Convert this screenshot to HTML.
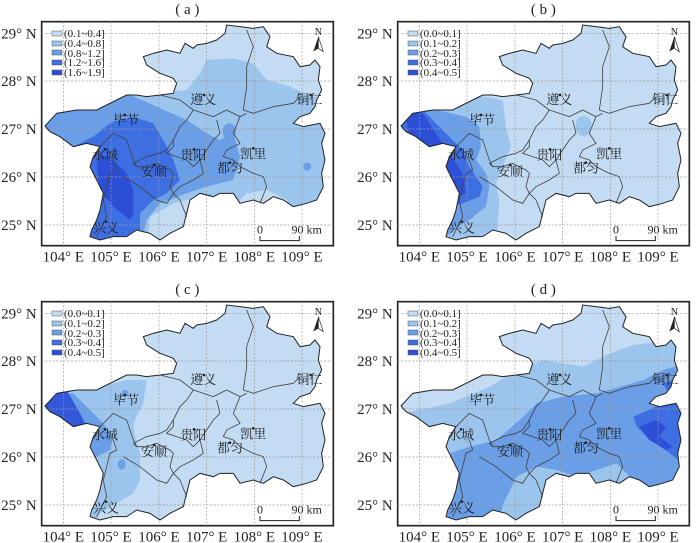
<!DOCTYPE html>
<html><head><meta charset="utf-8">
<style>
html,body{margin:0;padding:0;background:#fff;width:700px;height:543px;overflow:hidden}
svg{display:block}
text{font-family:"Liberation Serif","Noto Serif CJK SC",serif;fill:#222}
</style></head><body>
<svg width="700" height="543" viewBox="0 0 700 543" xmlns="http://www.w3.org/2000/svg">
<defs>
<clipPath id="gz"><path id="outline" d="M135,378 L170,340 L230,330 L290,330 L350,300 L380,285 L410,285 L440,290 L480,285 L520,280 L530,250 L520,235 L480,220 L440,195 L430,170 L460,160 L500,150 L540,160 L555,130 L580,145 L590,135 L620,130 L650,120 L675,100 L680,75 L720,80 L760,85 L790,80 L810,110 L800,140 L830,160 L880,170 L900,200 L930,195 L945,180 L960,200 L955,240 L965,270 L950,300 L945,320 L930,340 L900,350 L880,370 L910,380 L960,370 L975,400 L965,430 L975,480 L965,520 L970,560 L950,600 L920,610 L880,620 L850,600 L820,590 L790,610 L760,600 L720,610 L700,580 L660,580 L640,590 L600,580 L570,600 L560,640 L550,680 L510,700 L480,720 L450,700 L410,690 L380,710 L340,710 L300,720 L270,710 L275,690 L290,660 L300,630 L310,580 L290,540 L270,500 L280,470 L300,440 L260,430 L220,440 L180,410 L150,395 Z"/></clipPath>
<g id="frame">
<rect x="125" y="65" width="875" height="672" fill="none" stroke="#222" stroke-width="5"/>
<g stroke="#999" stroke-width="2" stroke-dasharray="6,5">
<line x1="190" y1="65" x2="190" y2="737"/><line x1="333" y1="65" x2="333" y2="737"/><line x1="477" y1="65" x2="477" y2="737"/><line x1="620" y1="65" x2="620" y2="737"/><line x1="763" y1="65" x2="763" y2="737"/><line x1="906" y1="65" x2="906" y2="737"/>
<line x1="125" y1="100" x2="1000" y2="100"/><line x1="125" y1="243" x2="1000" y2="243"/><line x1="125" y1="387" x2="1000" y2="387"/><line x1="125" y1="531" x2="1000" y2="531"/><line x1="125" y1="675" x2="1000" y2="675"/>
</g>
<g font-size="45" text-anchor="end">
<text x="110" y="115">29° N</text><text x="110" y="258">28° N</text><text x="110" y="402">27° N</text><text x="110" y="546">26° N</text><text x="110" y="690">25° N</text>
</g>
<g font-size="45" text-anchor="middle">
<text x="190" y="785">104° E</text><text x="333" y="785">105° E</text><text x="477" y="785">106° E</text><text x="620" y="785">107° E</text><text x="763" y="785">108° E</text><text x="906" y="785">109° E</text>
</g>
<g fill="none" stroke="#444" stroke-width="2.5">
<polyline points="480,285 540,300 580,330 560,360 540,380 520,420 500,450"/>
<polyline points="740,90 760,140 740,200 740,260 730,330 760,340 820,320 880,310 900,290"/>
<polyline points="580,330 640,350 680,330 720,350 740,340"/>
<polyline points="520,420 520,440 500,460 530,470 560,480 580,500 600,480 620,450 640,420 660,400 650,360"/>
<polyline points="720,350 700,400 720,430 680,450 670,470 700,480 720,500 760,520 790,530 800,560 780,610"/>
<polyline points="400,490 440,470 480,460 500,450"/>
<polyline points="400,490 410,500 440,500 470,490 510,510 520,520 510,560 520,580"/>
<polyline points="370,530 420,560 470,600 500,610 520,580 540,600 560,650"/>
<polyline points="300,440 340,400 380,420 400,480 410,500"/>
<polyline points="340,480 350,510 330,520 320,560 310,600 320,650 290,710"/>
<polyline points="600,480 610,520 580,540 540,560 520,580"/>
</g>
<use href="#outline" fill="none" stroke="#222" stroke-width="3"/>
<g font-size="39" text-anchor="middle">
<text x="610" y="312">遵义</text><text x="378" y="373">毕节</text><text x="315" y="478">水城</text><text x="580" y="478">贵阳</text><text x="462" y="528">安顺</text><text x="760" y="475">凯里</text><text x="690" y="518">都匀</text><text x="928" y="312">铜仁</text><text x="318" y="698">兴义</text>
</g>
<g fill="#222"><circle cx="612" cy="285" r="4"/><circle cx="375" cy="345" r="4"/><circle cx="315" cy="448" r="4"/><circle cx="582" cy="448" r="4"/><circle cx="462" cy="495" r="4"/><circle cx="760" cy="445" r="4"/><circle cx="690" cy="488" r="4"/><circle cx="932" cy="285" r="4"/><circle cx="318" cy="665" r="4"/></g>
<text x="955" y="105" font-size="30" text-anchor="middle">N</text>
<path d="M955,110 L940,155 L955,145 Z" fill="#222"/><path d="M955,110 L970,155 L955,145 Z" fill="none" stroke="#222" stroke-width="2"/>
<text x="780" y="700" font-size="36" text-anchor="middle">0</text>
<text x="920" y="700" font-size="36" text-anchor="middle">90 km</text>
<polyline points="780,708 780,722 898,722 898,708" fill="none" stroke="#222" stroke-width="3"/>
</g>
</defs>

<!-- Panel a -->
<g transform="translate(0,0) scale(0.33333)">
<text x="562" y="42" font-size="45" text-anchor="middle">( a )</text>
<g clip-path="url(#gz)">
<rect x="100" y="50" width="920" height="720" fill="#9cc5ee"/>
<path d="M400,60 L1000,60 L1000,290 L930,290 L870,260 L800,240 L760,190 L700,175 L620,180 L600,220 L560,270 L480,280 L400,280 Z" fill="#c4dcf3"/>
<path d="M700,620 L740,580 L800,570 L860,600 L880,650 L700,650 Z" fill="#c4dcf3"/>
<path d="M440,740 L450,650 L520,610 L600,590 L560,700 L520,740 Z" fill="#c4dcf3"/>
<path d="M130,300 L380,280 L470,320 L560,360 L620,400 L660,420 L700,400 L720,470 L700,540 L620,560 L560,580 L480,610 L440,660 L420,740 L260,740 L130,420 Z" fill="#6a9ee6"/>
<ellipse cx="688" cy="395" rx="20" ry="25" fill="#6a9ee6"/><circle cx="922" cy="500" r="12" fill="#6a9ee6"/>
<path d="M220,440 L280,410 L330,370 L400,350 L460,370 L490,420 L520,480 L540,540 L500,580 L460,600 L420,640 L420,700 L380,710 L300,720 L260,720 L260,540 L240,470 Z" fill="#3e6fe2"/>
<path d="M300,460 L340,480 L380,520 L400,570 L400,640 L390,660 L340,620 L300,570 L290,500 Z" fill="#2c4fd6"/>
</g>
<use href="#frame"/>
</g>

<!-- Panel b -->
<g transform="translate(356,0) scale(0.33333)">
<text x="562" y="42" font-size="45" text-anchor="middle">( b )</text>
<g clip-path="url(#gz)">
<rect x="100" y="50" width="920" height="720" fill="#c4dcf3"/>
<path d="M130,330 L380,290 L440,300 L450,380 L465,440 L440,500 L420,550 L430,600 L420,740 L270,740 L130,420 Z" fill="#9cc5ee"/>
<ellipse cx="683" cy="378" rx="24" ry="30" fill="#9cc5ee"/>
<path d="M130,330 L240,330 L330,350 L370,380 L375,440 L360,480 L390,520 L400,560 L390,620 L340,660 L290,690 L270,710 L260,560 L130,420 Z" fill="#6a9ee6"/>
<path d="M130,330 L200,330 L270,400 L320,450 L340,500 L380,560 L370,590 L320,610 L280,620 L250,600 L130,420 Z" fill="#3e6fe2"/>
<path d="M150,340 L200,340 L240,400 L280,460 L320,520 L330,580 L290,600 L250,590 L250,470 L160,430 Z" fill="#2c4fd6"/>
</g>
<use href="#frame"/>
</g>

<!-- Panel c -->
<g transform="translate(0,280) scale(0.33333)">
<text x="562" y="42" font-size="45" text-anchor="middle">( c )</text>
<g clip-path="url(#gz)">
<rect x="100" y="50" width="920" height="720" fill="#c4dcf3"/>
<path d="M130,340 L260,330 L380,300 L440,300 L430,370 L400,430 L405,470 L420,520 L420,600 L400,640 L300,700 L270,740 L250,500 L130,420 Z" fill="#9cc5ee"/>
<path d="M130,340 L220,340 L260,380 L300,420 L340,470 L330,510 L290,530 L260,560 L240,480 L130,420 Z" fill="#6a9ee6"/>
<ellipse cx="365" cy="553" rx="12" ry="15" fill="#6a9ee6"/><circle cx="375" cy="340" r="10" fill="#6a9ee6"/>
<path d="M130,320 L200,330 L240,400 L260,440 L260,470 L230,470 L130,420 Z" fill="#3358da"/>
</g>
<use href="#frame"/>
</g>

<!-- Panel d -->
<g transform="translate(356,280) scale(0.33333)">
<text x="562" y="42" font-size="45" text-anchor="middle">( d )</text>
<g clip-path="url(#gz)">
<rect x="100" y="50" width="920" height="720" fill="#c4dcf3"/>
<path d="M100,400 L142,400 L282,370 L402,320 L482,270 L562,240 L682,260 L762,220 L832,195 L962,180 L1010,170 L1010,760 L100,760 Z" fill="#9cc5ee"/>
<path d="M252,530 L342,500 L422,480 L502,410 L542,370 L622,350 L722,340 L862,300 L922,270 L990,250 L990,760 L822,590 L782,550 L662,590 L602,570 L542,560 L482,590 L442,670 L422,760 L252,760 Z" fill="#6a9ee6"/>
<path d="M832,410 L922,370 L990,360 L990,560 L942,520 L872,470 L842,440 Z" fill="#3e6fe2"/>
<path d="M922,310 L972,290 L972,320 L932,330 Z" fill="#3e6fe2"/>
<path d="M850,440 L900,420 L930,440 L910,470 L950,500 L930,510 L880,480 Z" fill="#2c4fd6"/>
</g>
<use href="#frame"/>
</g>

<!-- Legends -->
<g id="lg" transform="scale(0.33333)">
</g>
<g font-size="12" font-family="Liberation Serif">
<g transform="translate(0,0)">
<rect x="52" y="31" width="10" height="5" fill="#c4dcf3" stroke="#555" stroke-width="0.5"/><text x="64" y="37" font-size="11">(0.1~0.4]</text>
<rect x="52" y="41" width="10" height="5" fill="#9cc5ee" stroke="#555" stroke-width="0.5"/><text x="64" y="47" font-size="11">(0.4~0.8]</text>
<rect x="52" y="50" width="10" height="5" fill="#6a9ee6" stroke="#555" stroke-width="0.5"/><text x="64" y="57" font-size="11">(0.8~1.2]</text>
<rect x="52" y="60" width="10" height="5" fill="#3e6fe2" stroke="#555" stroke-width="0.5"/><text x="64" y="66" font-size="11">(1.2~1.6]</text>
<rect x="52" y="70" width="10" height="5" fill="#2c4fd6" stroke="#555" stroke-width="0.5"/><text x="64" y="76" font-size="11">(1.6~1.9]</text>
</g>
<g id="lg2" transform="translate(356,0)">
<rect x="52" y="31" width="10" height="5" fill="#c4dcf3" stroke="#555" stroke-width="0.5"/><text x="64" y="37" font-size="11">(0.0~0.1]</text>
<rect x="52" y="41" width="10" height="5" fill="#9cc5ee" stroke="#555" stroke-width="0.5"/><text x="64" y="47" font-size="11">(0.1~0.2]</text>
<rect x="52" y="50" width="10" height="5" fill="#6a9ee6" stroke="#555" stroke-width="0.5"/><text x="64" y="57" font-size="11">(0.2~0.3]</text>
<rect x="52" y="60" width="10" height="5" fill="#3e6fe2" stroke="#555" stroke-width="0.5"/><text x="64" y="66" font-size="11">(0.3~0.4]</text>
<rect x="52" y="70" width="10" height="5" fill="#2c4fd6" stroke="#555" stroke-width="0.5"/><text x="64" y="76" font-size="11">(0.4~0.5]</text>
</g>
<g transform="translate(0,280)">
<rect x="52" y="31" width="10" height="5" fill="#c4dcf3" stroke="#555" stroke-width="0.5"/><text x="64" y="37" font-size="11">(0.0~0.1]</text>
<rect x="52" y="41" width="10" height="5" fill="#9cc5ee" stroke="#555" stroke-width="0.5"/><text x="64" y="47" font-size="11">(0.1~0.2]</text>
<rect x="52" y="50" width="10" height="5" fill="#6a9ee6" stroke="#555" stroke-width="0.5"/><text x="64" y="57" font-size="11">(0.2~0.3]</text>
<rect x="52" y="60" width="10" height="5" fill="#3e6fe2" stroke="#555" stroke-width="0.5"/><text x="64" y="66" font-size="11">(0.3~0.4]</text>
<rect x="52" y="70" width="10" height="5" fill="#2c4fd6" stroke="#555" stroke-width="0.5"/><text x="64" y="76" font-size="11">(0.4~0.5]</text>
</g>
<g transform="translate(356,280)">
<rect x="52" y="31" width="10" height="5" fill="#c4dcf3" stroke="#555" stroke-width="0.5"/><text x="64" y="37" font-size="11">(0.0~0.1]</text>
<rect x="52" y="41" width="10" height="5" fill="#9cc5ee" stroke="#555" stroke-width="0.5"/><text x="64" y="47" font-size="11">(0.1~0.2]</text>
<rect x="52" y="50" width="10" height="5" fill="#6a9ee6" stroke="#555" stroke-width="0.5"/><text x="64" y="57" font-size="11">(0.2~0.3]</text>
<rect x="52" y="60" width="10" height="5" fill="#3e6fe2" stroke="#555" stroke-width="0.5"/><text x="64" y="66" font-size="11">(0.3~0.4]</text>
<rect x="52" y="70" width="10" height="5" fill="#2c4fd6" stroke="#555" stroke-width="0.5"/><text x="64" y="76" font-size="11">(0.4~0.5]</text>
</g>
</g>
</svg>
</body></html>
